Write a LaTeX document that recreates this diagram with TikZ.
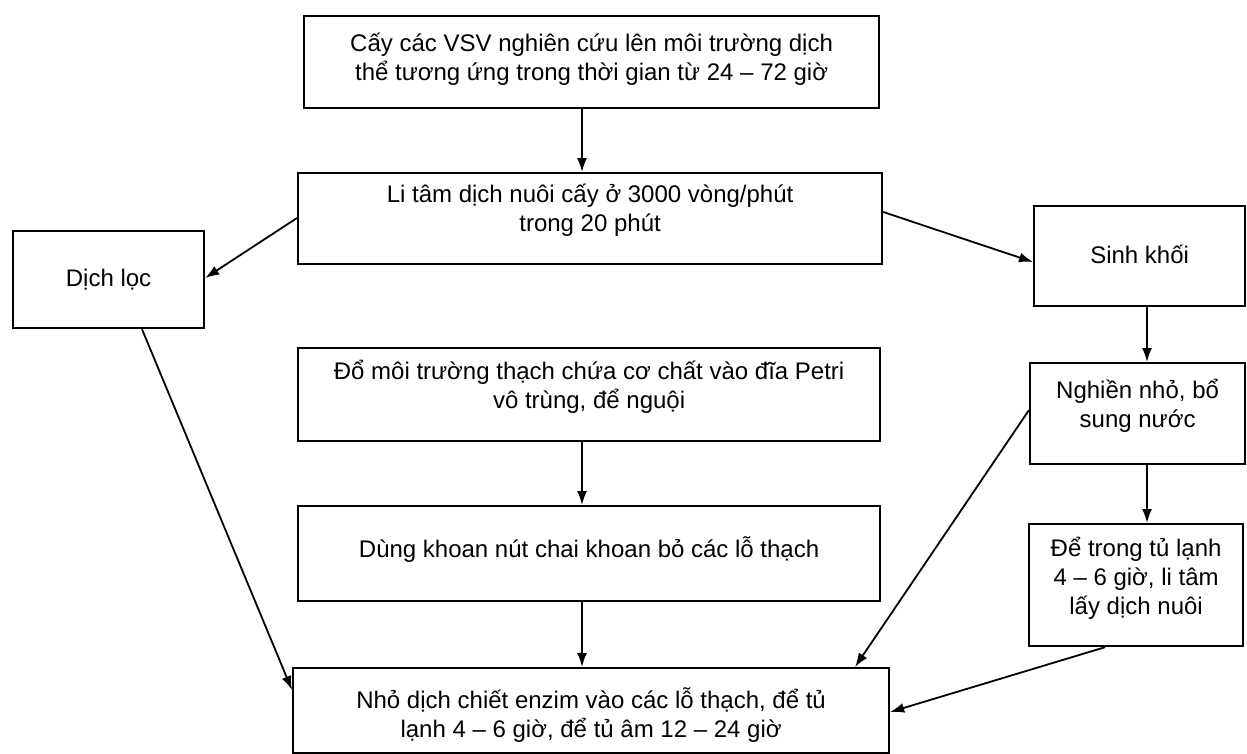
\documentclass[tikz,border=0pt]{standalone}
\usepackage{fontspec}
\setmainfont{Liberation Sans}
\usetikzlibrary{arrows.meta,calc}
\begin{document}
\begin{tikzpicture}[x=1pt,y=-1pt,
  box/.style={draw, line width=2.2pt, inner sep=0pt, anchor=north west},
  txt/.style={align=center, inner sep=0pt, font=\fontsize{24}{29}\selectfont},
  arr/.style={line width=1.8pt, -{Latex[length=14pt,width=10pt]}},
]
\useasboundingbox (0,0) rectangle (1247,753);
% boxes
\node[box, minimum width=575pt, minimum height=92pt] (b1) at (303,15) {};
\node[box, minimum width=584pt, minimum height=91pt] (b2) at (297,172) {};
\node[box, minimum width=191pt, minimum height=97pt] (loc) at (12,230) {};
\node[box, minimum width=211pt, minimum height=100pt] (sinh) at (1033,205) {};
\node[box, minimum width=582pt, minimum height=93pt] (dom) at (297,347) {};
\node[box, minimum width=215pt, minimum height=101pt] (ngh) at (1029,362) {};
\node[box, minimum width=582pt, minimum height=95pt] (dung) at (297,505) {};
\node[box, minimum width=214pt, minimum height=122pt] (de) at (1028,523) {};
\node[box, minimum width=596pt, minimum height=85pt] (bot) at (292,667) {};
% texts
\node[txt] (t1) at ($(b1.center)+(0,-3)$) {Cấy các VSV nghiên cứu lên môi trường dịch\\thể tương ứng trong thời gian từ 24 – 72 giờ};
\node[txt] (t2) at ($(b2.center)+(0,-8)$) {Li tâm dịch nuôi cấy ở 3000 vòng/phút\\trong 20 phút};
\node[txt] (t3) at (loc.center) {Dịch lọc};
\node[txt] (t4) at ($(sinh.center)+(0,-2)$) {Sinh khối};
\node[txt] (t5) at ($(dom.center)+(0,-8)$) {Đổ môi trường thạch chứa cơ chất vào đĩa Petri\\vô trùng, để nguội};
\node[txt] (t6) at ($(ngh.center)+(0,-8)$) {Nghiền nhỏ, bổ\\sung nước};
\node[txt] (t7) at ($(dung.center)+(0,-4)$) {Dùng khoan nút chai khoan bỏ các lỗ thạch};
\node[txt] (t8) at ($(de.center)+(0,-7)$) {Để trong tủ lạnh\\4 – 6 giờ, li tâm\\lấy dịch nuôi};
\node[txt] (t9) at ($(bot.center)+(0,4)$) {Nhỏ dịch chiết enzim vào các lỗ thạch, để tủ\\lạnh 4 – 6 giờ, để tủ âm 12 – 24 giờ};
% arrow columns
\coordinate (cx) at (582,0);
\coordinate (rx) at (1147,0);
% connectors
\draw[arr] (b1.south -| cx) -- (b2.north -| cx);
\draw[arr] ($(b2.north west)+(0,46)$) -- ($(loc.north east)+(0,48)$);
\draw[arr] ($(b2.north east)+(0,40)$) -- ($(sinh.north west)+(0,57)$);
\draw[arr] (sinh.south -| rx) -- (ngh.north -| rx);
\draw[arr] (ngh.south -| rx) -- (de.north -| rx);
\draw[arr] (dom.south -| cx) -- (dung.north -| cx);
\draw[arr] (dung.south -| cx) -- (bot.north -| cx);
\draw[arr] ($(loc.south west)+(130,0)$) -- ($(bot.north west)+(0,23)$);
\draw[arr] ($(ngh.north west)+(0,48)$) -- ($(bot.north west)+(563,0)$);
\draw[arr] ($(de.south west)+(77,0)$) -- ($(bot.north east)+(0,45)$);
\end{tikzpicture}
\end{document}
